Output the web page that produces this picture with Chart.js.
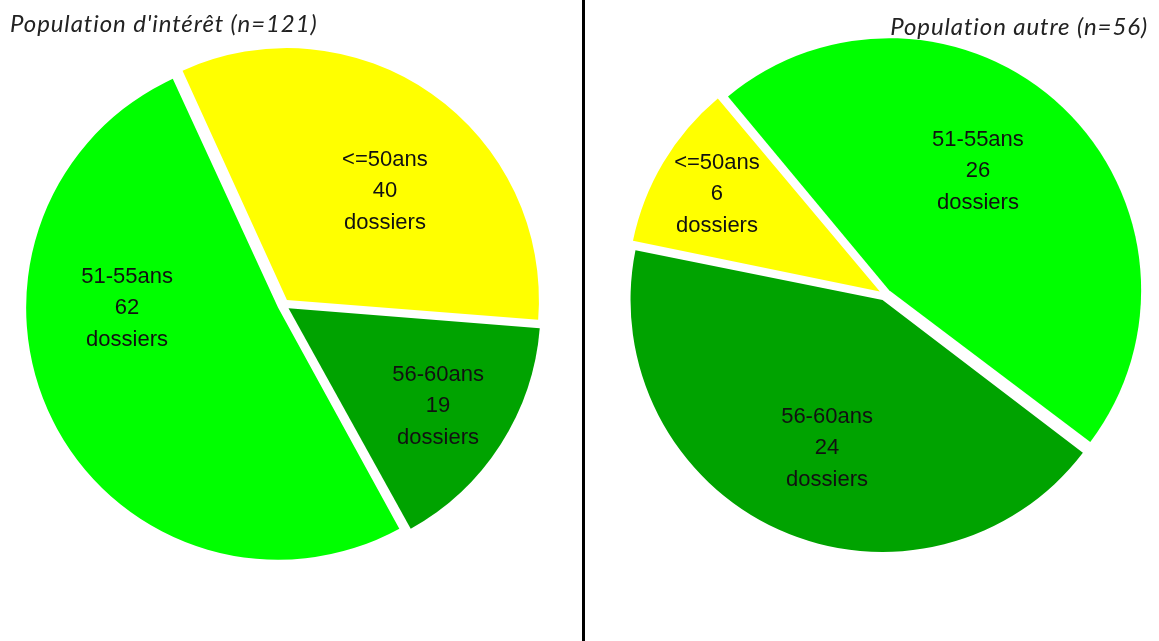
<!DOCTYPE html>
<html>
<head>
<meta charset="utf-8">
<script src="https://cdn.jsdelivr.net/npm/chart.js@4"></script>
<style>
    html, body { margin: 0; padding: 0; background: #fff; }
    body { width: 1159px; height: 641px; position: relative; overflow: hidden; }
    .box { position: absolute; }
    .title { position: absolute; font-family: Lato, sans-serif; font-style: italic; font-size: 24px; letter-spacing: 0.9px; color: #222; white-space: nowrap; line-height: 1; }
    #divider { position: absolute; left: 582px; top: 0; width: 3px; height: 641px; background: #000; }
</style>
</head>
<body>
<div class="box" style="left:0; top:0; width:567px; height:610px;"><canvas id="leftPie"></canvas></div>
<div class="box" style="left:605px; top:0; width:560px; height:589px;"><canvas id="rightPie"></canvas></div>
<div id="divider"></div>
<div class="title" id="leftTitle" style="left:10px; top:11px;">Population d'intérêt (n=121)</div>
<div class="title" id="rightTitle" style="right:11px; top:14px;">Population autre (n=56)</div>
<script>
// Data
const leftLabels = ["<=50ans", "56-60ans", "51-55ans"];
const leftValues = [40, 19, 62];
const rightLabels = ["<=50ans", "51-55ans", "56-60ans"];
const rightValues = [6, 26, 24];
const unitText = "dossiers";

const YELLOW = "#ffff00";
const GREEN = "#00ff00";
const DARK = "#00a300";
const RADIUS = 252;
const EXPLODE = 6; // px each slice is pulled out

// label anchors: [angle from top clockwise (deg), fraction of radius]
const leftPlacement = [[41.7, 0.605], [123.2, 0.733], [268.9, 0.621]];
const rightPlacement = [[300.9, 0.777], [37, 0.613], [200.7, 0.651]];

// Chart.js grows an offset arc's radius by offset/4 * (1 - sin(circ)),
// shrink it back so all slices keep the same radius
const evenRadius = {
    id: 'evenRadius',
    beforeDatasetsDraw(chart) {
        chart.getDatasetMeta(0).data.forEach(function (arc) {
            const fix = 1 - Math.sin(Math.min(Math.PI, arc.circumference));
            arc.outerRadius = RADIUS - EXPLODE * fix;
        });
    }
};

const sliceLabels = {
    id: 'sliceLabels',
    afterDatasetsDraw(chart, args, opts) {
        const ctx = chart.ctx;
        const meta = chart.getDatasetMeta(0);
        const labels = chart.data.labels;
        const values = chart.data.datasets[0].data;
        ctx.save();
        ctx.fillStyle = "#111";
        ctx.font = "22px 'Liberation Sans', Arial, sans-serif";
        ctx.textAlign = "center";
        ctx.textBaseline = "middle";
        meta.data.forEach(function (arc, i) {
            const p = opts.placement[i];
            const a = (p[0] - 90) * Math.PI / 180;
            const r = RADIUS * p[1];
            const x = arc.x + Math.cos(a) * r;
            const y = arc.y + Math.sin(a) * r;
            ctx.fillText(labels[i], x, y - 31);
            ctx.fillText(String(values[i]), x, y);
            ctx.fillText(unitText, x, y + 32);
        });
        ctx.restore();
    }
};

function makePie(id, labels, values, colors, rotation, placement) {
    const ctx = document.getElementById(id).getContext("2d");
    return new Chart(ctx, {
        type: "pie",
        data: {
            labels: labels,
            datasets: [{
                data: values,
                backgroundColor: colors,
                borderWidth: 0,
                offset: 4 * EXPLODE
            }]
        },
        options: {
            responsive: true,
            maintainAspectRatio: false,
            animation: false,
            rotation: rotation,
            radius: RADIUS,
            layout: { padding: 0 },
            plugins: {
                legend: { display: false },
                tooltip: { enabled: false },
                sliceLabels: { placement: placement }
            }
        },
        plugins: [evenRadius, sliceLabels]
    });
}

makePie("leftPie", leftLabels, leftValues, [YELLOW, DARK, GREEN], -24.5, leftPlacement);
makePie("rightPie", rightLabels, rightValues, [YELLOW, GREEN, DARK], 281.5, rightPlacement);
</script>
</body>
</html>
